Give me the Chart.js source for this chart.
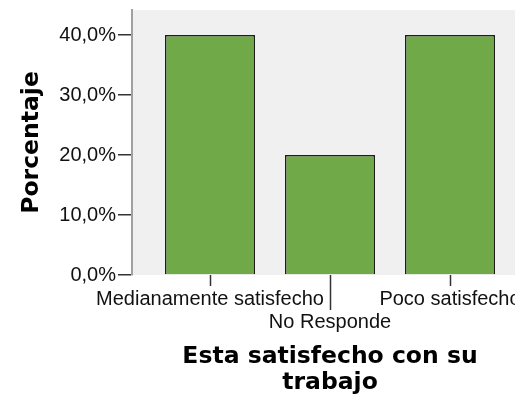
<!DOCTYPE html>
<html>
<head>
<meta charset="utf-8">
<script src="https://cdn.jsdelivr.net/npm/chart.js@4.4.0/dist/chart.umd.min.js"></script>
<style>
    html, body { margin: 0; padding: 0; background: #fff; overflow: hidden; }
    #wrap { width: 528px; height: 408px; }
</style>
</head>
<body>
<div id="wrap"><canvas id="myChart" width="528" height="408"></canvas></div>
<script>
const categories = ['Medianamente satisfecho', 'No Responde', 'Poco satisfecho'];
const porcentajes = [40, 20, 40];
const yTickValues = [0, 10, 20, 30, 40];
const xTitle = ['Esta satisfecho con su', 'trabajo'];
const yTitle = 'Porcentaje';

// fondo gris del area de grafico y marcas del eje x (la del medio mas larga)
const plotDecor = {
    id: 'plotDecor',
    beforeDraw(chart) {
        const ctx = chart.ctx;
        const a = chart.chartArea;
        ctx.save();
        ctx.fillStyle = '#f0f0f0';
        ctx.fillRect(a.left, a.top, a.right - a.left, a.bottom - a.top);
        ctx.restore();
    },
    afterDraw(chart) {
        const ctx = chart.ctx;
        const x = chart.scales.x;
        const bottom = chart.chartArea.bottom;
        ctx.save();
        ctx.strokeStyle = '#333';
        ctx.lineWidth = 1.5;
        categories.forEach(function(c, i) {
            const px = Math.round(x.getPixelForValue(i)) + 0.5;
            const len = (i % 2 === 1) ? 35 : 11;
            ctx.beginPath();
            ctx.moveTo(px, bottom);
            ctx.lineTo(px, bottom + len);
            ctx.stroke();
        });
        ctx.restore();
    }
};

const myChart = document.getElementById('myChart').getContext('2d');

const barChart = new Chart(myChart, {
    type: 'bar',
    data: {
        datasets: [{
            label: 'Porcentaje',
            data: porcentajes.map(function(v, i) { return { x: i, y: v }; }),
            backgroundColor: '#70a947',
            borderColor: '#1e1e1e',
            borderWidth: 1.5,
            barPercentage: 0.75,
            categoryPercentage: 1
        }]
    },
    options: {
        responsive: false,
        animation: false,
        layout: { padding: { top: 10, left: 0, right: 0, bottom: 0 } },
        plugins: {
            legend: { display: false },
            tooltip: { enabled: false }
        },
        scales: {
            x: {
                type: 'linear',
                offset: false,
                min: -0.65,
                max: 2.65,
                afterBuildTicks: function(scale) {
                    scale.ticks = categories.map(function(c, i) { return { value: i }; });
                },
                grid: { display: false, drawTicks: false },
                border: { display: false },
                ticks: {
                    autoSkip: false,
                    maxRotation: 0,
                    minRotation: 0,
                    padding: 13,
                    color: '#111',
                    font: { family: 'Liberation Sans', size: 20, lineHeight: 1.15 },
                    callback: function(v) {
                        return (v % 2 === 1) ? ['', categories[v]] : categories[v];
                    }
                },
                title: {
                    display: true,
                    text: xTitle,
                    color: '#000',
                    font: { family: 'DejaVu Sans', size: 23.5, weight: 'bold', lineHeight: 1.1 },
                    padding: { top: 0, bottom: 12 }
                },
                afterFit: function(scale) {
                    scale.height = 133;
                    scale.paddingLeft = 0;
                    scale.paddingRight = 0;
                }
            },
            y: {
                min: 0,
                max: 44.17,
                afterBuildTicks: function(scale) {
                    scale.ticks = yTickValues.map(function(v) { return { value: v }; });
                },
                grid: {
                    drawOnChartArea: false,
                    drawTicks: true,
                    tickLength: 14,
                    color: '#333',
                    lineWidth: 1.5
                },
                border: { display: true, color: '#a0a0a0', width: 2 },
                ticks: {
                    padding: 2,
                    color: '#111',
                    font: { family: 'Liberation Sans', size: 20 },
                    callback: function(v) { return v.toFixed(1).replace('.', ',') + '%'; }
                },
                title: {
                    display: true,
                    text: yTitle,
                    color: '#000',
                    font: { family: 'DejaVu Sans', size: 23.5, weight: 'bold', lineHeight: 1.2 },
                    padding: { top: 18, bottom: 0 }
                },
                afterFit: function(scale) {
                    scale.width = 132;
                    scale.paddingTop = 0;
                    scale.paddingBottom = 0;
                }
            }
        }
    },
    plugins: [plotDecor]
});
</script>
</body>
</html>
